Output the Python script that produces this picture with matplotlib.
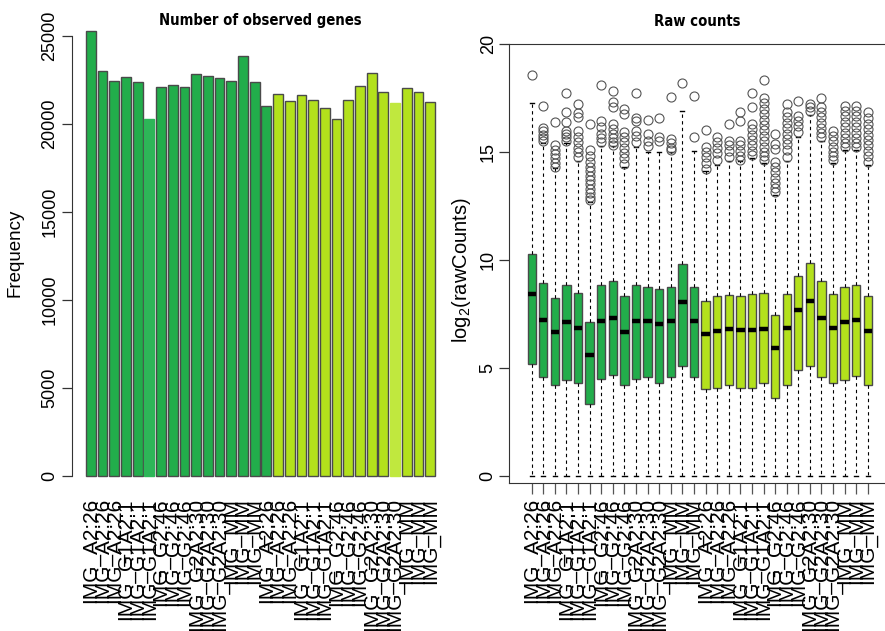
import matplotlib
matplotlib.use("Agg")
import matplotlib.pyplot as plt
import matplotlib.transforms as mtransforms
from matplotlib import font_manager

plt.rcParams["font.family"] = ["Liberation Sans", "DejaVu Sans"]
plt.rcParams["mathtext.fontset"] = "custom"
plt.rcParams["mathtext.rm"] = "Liberation Sans"
plt.rcParams["mathtext.default"] = "regular"

# ---- data -------------------------------------------------------------
sample_groups = ["IMG_A2:26", "IMG_G1A2:1", "IMG_G2:46", "IMG_G2A2:30", "IMG_MM"]
sample_labels = [g for g in sample_groups for _ in range(3)] * 2

observed_genes = [25280, 22990, 22460, 22690, 22370, 20300, 22100, 22220, 22100, 22820,
                  22750, 22630, 22460, 23880, 22400, 21040, 21700, 21290, 21630, 21350,
                  20930, 20280, 21350, 22160, 22880, 21820, 21190, 22050, 21820, 21230]

# log2 raw count summaries per sample
q1 = [5.19, 4.57, 4.20, 4.42, 4.28, 3.32, 4.48, 4.68, 4.20, 4.48,
      4.57, 4.32, 4.57, 5.07, 4.57, 4.04, 4.09, 4.20, 4.09, 4.09,
      4.32, 3.61, 4.20, 4.91, 5.11, 4.57, 4.28, 4.43, 4.63, 4.20]
median = [8.42, 7.21, 6.64, 7.12, 6.84, 5.60, 7.16, 7.32, 6.64, 7.16,
          7.16, 7.03, 7.16, 8.03, 7.16, 6.55, 6.69, 6.78, 6.76, 6.75,
          6.79, 5.90, 6.84, 7.66, 8.12, 7.30, 6.84, 7.12, 7.21, 6.69]
q3 = [10.27, 8.91, 8.23, 8.85, 8.48, 7.12, 8.85, 9.01, 8.32, 8.85,
      8.76, 8.67, 8.76, 9.83, 8.76, 8.09, 8.32, 8.37, 8.32, 8.42,
      8.48, 7.44, 8.42, 9.24, 9.87, 9.01, 8.42, 8.76, 8.85, 8.32]
whisker_low = [0.0] * 30
whisker_high = [17.25, 15.40, 14.26, 15.40, 14.60, 12.70, 15.26, 15.26, 14.30, 15.23,
                15.00, 15.00, 15.00, 16.91, 15.03, 14.10, 14.40, 14.60, 14.58, 14.70,
                14.50, 13.00, 14.60, 15.70, 16.73, 15.50, 14.50, 15.10, 15.10, 14.40]
outliers = [
    [18.56],
    [17.15, 16.11, 15.95, 15.80, 15.65, 15.53],
    [16.37, 15.30, 15.10, 14.90, 14.70, 14.50, 14.31],
    [17.72, 16.83, 16.40, 15.99, 15.85, 15.70, 15.53],
    [17.21, 16.79, 16.63, 15.96, 15.69, 15.45, 15.20, 15.00, 14.77],
    [16.30, 15.07, 14.80, 14.55, 14.30, 14.10, 13.90, 13.70, 13.50, 13.30, 13.10, 12.90, 12.78],
    [18.10, 16.45, 16.14, 15.84, 15.65, 15.46],
    [17.83, 17.32, 17.06, 16.30, 16.07, 15.85, 15.65, 15.45, 15.30],
    [16.99, 16.76, 15.92, 15.70, 15.45, 15.20, 14.95, 14.70, 14.46],
    [17.75, 16.57, 16.45, 15.99, 15.75, 15.46],
    [16.48, 15.84, 15.53, 15.26],
    [16.57, 15.69, 15.53],
    [17.55, 15.61, 15.40, 15.20, 15.07],
    [18.19],
    [17.58, 15.69],
    [16.02, 15.23, 15.00, 14.75, 14.50, 14.23],
    [15.69, 15.45, 15.20, 14.95, 14.62],
    [16.30, 15.53, 15.30, 15.05, 14.77],
    [16.83, 16.45, 15.53, 15.30, 15.05, 14.80, 14.62],
    [17.75, 17.06, 16.30, 16.05, 15.80, 15.55, 15.30, 15.05, 14.85],
    [18.32, 17.52, 17.25, 17.00, 16.75, 16.50, 16.25, 16.00, 15.75, 15.50, 15.25, 15.00, 14.80, 14.62],
    [15.84, 15.38, 15.15, 14.54, 14.30, 14.05, 13.80, 13.55, 13.35, 13.16],
    [17.21, 16.83, 16.60, 16.35, 16.10, 15.85, 15.60, 15.35, 15.10, 14.77],
    [17.37, 16.68, 16.45, 16.20, 15.92],
    [17.21, 17.06, 16.91],
    [17.49, 17.06, 16.85, 16.60, 16.35, 16.10, 15.90, 15.69],
    [15.99, 15.75, 15.50, 15.25, 15.00, 14.80, 14.62],
    [17.14, 16.90, 16.65, 16.40, 16.15, 15.90, 15.65, 15.40, 15.23],
    [17.14, 16.90, 16.65, 16.40, 16.15, 15.90, 15.65, 15.40, 15.23],
    [16.83, 16.55, 16.30, 16.05, 15.80, 15.55, 15.30, 15.05, 14.80, 14.54],
]

# ---- styling ----------------------------------------------------------
GREEN = "#22ad4b"
GREEN_LIGHT = "#2db658"
LIME = "#b3e11c"
LIME_LIGHT = "#c0e83e"
EDGE = "#4a4a4a"

bar_colors = [GREEN] * 16 + [LIME] * 14
bar_colors[5] = GREEN_LIGHT
bar_colors[26] = LIME_LIGHT
bar_edges = [EDGE] * 30
bar_edges[5] = GREEN_LIGHT
bar_edges[26] = LIME_LIGHT
box_colors = [GREEN] * 15 + [LIME] * 15

# narrow bold face for the panel titles, when one is installed
title_props = None
for f in font_manager.fontManager.ttflist:
    fn = f.fname.lower()
    if ("narrow" in fn or "condensed" in fn) and ("bold" in fn) and ("italic" not in fn) \
            and ("oblique" not in fn) and ("mono" not in fn) and ("serif" not in fn or "sans" in fn):
        title_props = font_manager.FontProperties(fname=f.fname, size=10.6)
        break
if title_props is None:
    title_props = font_manager.FontProperties(family="Liberation Sans", weight="bold", size=11.2)

W, H = 885, 631
fig = plt.figure(figsize=(W / 100, H / 100), dpi=100)

LABEL_SIZE = 15.0
TICK_SIZE = 13.0

# ---- left panel: bar chart -------------------------------------------
axL = fig.add_axes([72 / W, 1 - 493.8 / H, (449 - 72) / W, (493.8 - 12.9) / H])
bar_x = [0.7 + 1.2 * i for i in range(len(observed_genes))]
axL.bar(bar_x, observed_genes, width=1.0, color=bar_colors, edgecolor=bar_edges, linewidth=1.0)
axL.set_xlim(-1.232, 37.432)
axL.set_ylim(-1012, 26312)
for s in ("top", "right", "bottom"):
    axL.spines[s].set_visible(False)
axL.spines["left"].set_bounds(0, 25000)
axL.spines["left"].set_color("#333333")
axL.set_yticks(range(0, 25001, 5000))
axL.set_xticks([])
axL.tick_params(axis="y", direction="out", length=7, width=0.9, color="#333333",
                labelsize=TICK_SIZE, pad=9)
for lab in axL.get_yticklabels():
    lab.set_rotation(90)
    lab.set_va("center")
    lab.set_ha("center")

# ---- right panel: box plots ------------------------------------------
axR = fig.add_axes([509 / W, 1 - 483 / H, (885 - 509) / W, (483 - 44) / H])
stats = []
for i in range(30):
    stats.append(dict(med=median[i], q1=q1[i], q3=q3[i], whislo=whisker_low[i],
                      whishi=whisker_high[i], fliers=outliers[i], label=sample_labels[i]))
positions = list(range(1, 31))
bp = axR.bxp(stats, positions=positions, widths=0.72, patch_artist=True,
             boxprops=dict(edgecolor=EDGE, linewidth=1.0),
             medianprops=dict(color="black", linewidth=3.2, solid_capstyle="butt"),
             whiskerprops=dict(color="black", linewidth=0.8, linestyle=(0, (3, 3))),
             capprops=dict(color="black", linewidth=1.0),
             capwidths=0.36,
             flierprops=dict(marker="o", markerfacecolor="none", markeredgecolor="#555555",
                             markersize=6.5, markeredgewidth=0.8))
for patch, c in zip(bp["boxes"], box_colors):
    patch.set_facecolor(c)
axR.set_xlim(-0.96, 31.48)
axR.set_ylim(-0.33, 20)
axR.spines["right"].set_visible(False)
for s in ("left", "top", "bottom"):
    axR.spines[s].set_color("#333333")
axR.set_yticks(range(0, 21, 5))
axR.set_xticks(positions)
axR.set_xticklabels([])
axR.tick_params(axis="y", direction="out", length=7, width=0.9, color="#333333",
                labelsize=TICK_SIZE, pad=8)
axR.tick_params(axis="x", direction="out", length=8, width=0.9, color="#555555")
for lab in axR.get_yticklabels():
    lab.set_rotation(90)
    lab.set_va("center")
    lab.set_ha("center")

# ---- sample names under both panels ----------------------------------
for ax, xs in ((axL, bar_x), (axR, positions)):
    tr = mtransforms.blended_transform_factory(ax.transData, fig.transFigure)
    for x, name in zip(xs, sample_labels):
        ax.text(x, 1 - 498 / H, name, transform=tr, rotation=90, ha="center", va="top",
                fontsize=LABEL_SIZE, clip_on=False)

# ---- titles and axis labels ------------------------------------------
fig.text(260.5 / W, 1 - 21 / H, "Number of observed genes", ha="center", va="center",
         fontproperties=title_props)
fig.text(697 / W, 1 - 22 / H, "Raw counts", ha="center", va="center",
         fontproperties=title_props)
fig.text(15 / W, 1 - 253 / H, "Frequency", rotation=90, ha="center", va="center", fontsize=13.5)
fig.text(461 / W, 1 - 270 / H, "log$_2$(rawCounts)", rotation=90, ha="center", va="center",
         fontsize=14.5)

fig.savefig("out.png", dpi=100)
